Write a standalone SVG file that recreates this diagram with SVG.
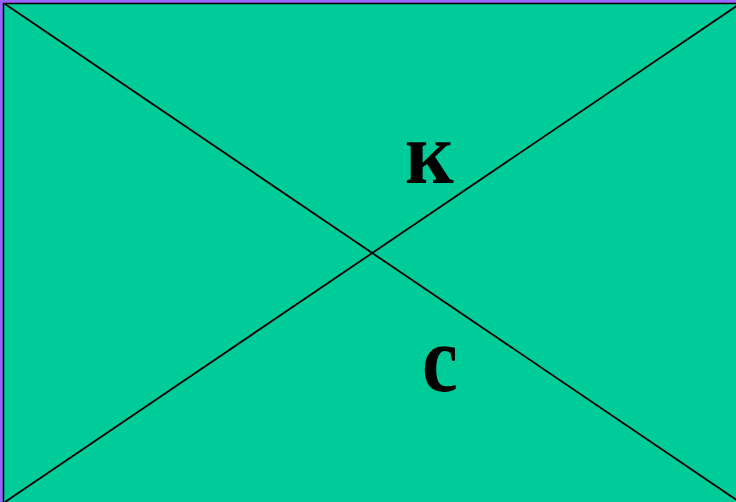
<svg xmlns="http://www.w3.org/2000/svg" width="736" height="502" viewBox="0 0 736 502">
<style>
.ln{stroke:#000;stroke-width:1.8;fill:none}
.lt{font-family:"Liberation Serif","Times New Roman",serif;font-weight:bold;fill:#000}
</style>
<rect x="0" y="0" width="736" height="502" fill="#9966FF"/>
<g id="panel">
<rect x="3.5" y="3.5" width="740" height="505" fill="#00CC99" stroke="#000" stroke-width="1.5"/>
</g>
<g id="connectors">
<line class="ln" x1="5" y1="4" x2="741" y2="503"/>
<line class="ln" x1="5" y1="502" x2="741" y2="3"/>
</g>
<g id="label-k"><text class="lt" x="405" y="183" font-size="88" transform="translate(405 0) scale(0.96 1) translate(-405 0)">к</text></g>
<g id="label-s"><text class="lt" x="422" y="391" font-size="96" transform="translate(422 0) scale(0.84 1) translate(-422 0)">с</text></g>
</svg>
